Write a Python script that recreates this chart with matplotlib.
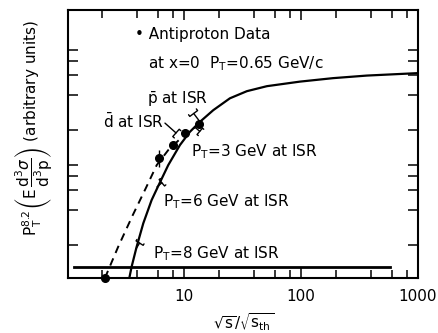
import matplotlib
matplotlib.use("Agg")
import matplotlib.pyplot as plt
from matplotlib.ticker import FixedLocator, NullFormatter, FixedFormatter

# antiproton points (sqrt(s)/sqrt(s_th), arbitrary units)
pbar_x = [2.11, 6.15, 8.10, 10.2, 13.5]
pbar_y = [0.516, 5.67, 7.41, 9.47, 11.4]
pbar_lo = [0.0, 0.9, 0.6, 0.7, 0.8]
pbar_hi = [0.0, 1.0, 0.7, 0.8, 0.9]

# dashed curve through the antiproton data
dash_x = [2.11, 2.74, 3.65, 4.71, 5.85, 7.34, 9.24, 11.6, 13.7]
dash_y = [0.516, 0.966, 1.82, 3.11, 4.96, 6.70, 8.35, 10.0, 11.4]

# solid scaling curve
sol_x = [3.41, 3.57, 3.94, 4.49, 5.29, 6.05, 7.34, 9.24, 11.25, 13.7, 17.8,
         24.7, 34.5, 51.2, 98, 188, 366, 1000]
sol_y = [0.516, 0.648, 0.966, 1.545, 2.46, 3.29, 4.96, 7.41, 9.67, 11.8, 14.9,
         18.9, 21.8, 24.1, 26.4, 28.3, 29.8, 31.3]

# horizontal level
flat_x = [1.15, 575]
flat_y = [0.644, 0.644]

xmajor = [10, 100, 1000]
xlabels = ["10", "100", "1000"]
xminor = [2, 4, 6, 8, 20, 40, 60, 80, 200, 400, 600, 800]
yticks = [1, 2, 3, 4, 5, 10, 20, 30, 40, 50]

fig = plt.figure(figsize=(4.39, 3.33), dpi=100)
ax = fig.add_axes([0.156, 0.165, 0.796, 0.806])
ax.set_xscale("log")
ax.set_yscale("log")
ax.set_xlim(1.03, 1000)
ax.set_ylim(0.516, 111.6)

ax.plot(sol_x, sol_y, color="black", lw=1.6, solid_joinstyle="round")
ax.plot(dash_x, dash_y, color="black", lw=1.4, ls=(0, (4, 3)))
ax.plot(flat_x, flat_y, color="black", lw=2.0)
ax.errorbar(pbar_x, pbar_y, yerr=[pbar_lo, pbar_hi], fmt="o", color="black",
            ms=5.5, elinewidth=1.0, capsize=0, clip_on=False, zorder=5)

bk = dict(color="black", lw=1.0, shrinkA=0, shrinkB=0)

# little "T" ticks marking the P_T values on the solid curve
def tmark(x, y, dx, dy):
    ax.annotate("", xy=(x, y), xytext=(dx, dy), textcoords="offset points",
                arrowprops=dict(arrowstyle="]-, widthA=0.3, lengthA=0.12", **bk))

tmark(3.9, 0.93, 2.5, 4.0)
tmark(5.88, 3.2, 3.5, 3.0)
tmark(12.4, 10.6, 3.5, -3.0)

# ISR brackets
ax.annotate("", xy=(13.7, 11.8), xytext=(-4.5, 6.0), textcoords="offset points",
            arrowprops=dict(arrowstyle="]-, widthA=0.35, lengthA=0.15", **bk))
ax.annotate("", xy=(8.55, 9.45), xytext=(6.88, 11.5),
            arrowprops=dict(arrowstyle="-[, widthB=0.35, lengthB=0.15", **bk))

fs = 11
pt = r"$\mathrm{P_T}$"
ax.text(0.19, 0.907, "\u2022 Antiproton Data", transform=ax.transAxes,
        fontsize=fs, va="center", ha="left")
ax.text(0.227, 0.8, "at x=0  " + pt + "=0.65 GeV/c", transform=ax.transAxes,
        fontsize=fs, va="center", ha="left")
ax.text(0.224, 0.667, r"$\bar{\mathrm{p}}$ at ISR", transform=ax.transAxes,
        fontsize=fs, va="center", ha="left")
ax.text(0.099, 0.583, r"$\bar{\mathrm{d}}$ at ISR", transform=ax.transAxes,
        fontsize=fs, va="center", ha="left")
ax.text(0.352, 0.47, pt + "=3 GeV at ISR", transform=ax.transAxes,
        fontsize=fs, va="center", ha="left")
ax.text(0.27, 0.283, pt + "=6 GeV at ISR", transform=ax.transAxes,
        fontsize=fs, va="center", ha="left")
ax.text(0.242, 0.09, pt + "=8 GeV at ISR", transform=ax.transAxes,
        fontsize=fs, va="center", ha="left")

ax.xaxis.set_major_locator(FixedLocator(xmajor))
ax.xaxis.set_major_formatter(FixedFormatter(xlabels))
ax.xaxis.set_minor_locator(FixedLocator(xminor))
ax.xaxis.set_minor_formatter(NullFormatter())
ax.yaxis.set_major_locator(FixedLocator(yticks))
ax.yaxis.set_major_formatter(NullFormatter())
ax.yaxis.set_minor_locator(FixedLocator([]))

ax.tick_params(which="both", direction="in", top=True, right=True,
               width=1.1, labelsize=fs, pad=8)
ax.tick_params(which="major", length=7)
ax.tick_params(which="minor", length=6)
for s in ax.spines.values():
    s.set_linewidth(1.5)

ax.set_xlabel(r"$\sqrt{\mathrm{s}}/\sqrt{\mathrm{s_{th}}}$", fontsize=fs)
ax.xaxis.set_label_coords(0.5, -0.125)
ax.set_ylabel(r"$\mathrm{P_T^{8.2}}\left(\mathrm{E}\,\dfrac{\mathrm{d^3}\sigma}{\mathrm{d^3p}}\right)$ (arbitrary units)",
              fontsize=fs)
ax.yaxis.set_label_coords(-0.04, 0.56)

fig.savefig("out.png", dpi=100)
